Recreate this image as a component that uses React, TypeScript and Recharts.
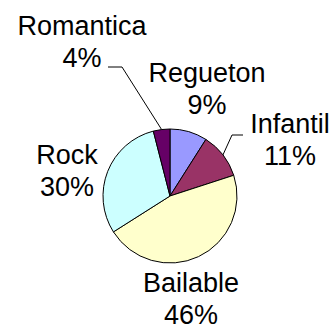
import { PieChart, Pie, Cell } from 'recharts'

const genres = ['Regueton', 'Infantil', 'Bailable', 'Rock', 'Romantica']
const shares = [9, 11, 46, 30, 4]
const colors = ['#9999ff', '#993366', '#ffffcc', '#ccffff', '#660066']

const data = genres.map((name, i) => ({ name, value: shares[i] }))

// label placement relative to the pie centre: [text centre x, first baseline y]
const labelOffsets: Record<string, [number, number]> = {
  Regueton: [37, -114],
  Infantil: [120, -63],
  Bailable: [21, 96],
  Rock: [-103, -32],
  Romantica: [-88, -161],
}

// leader lines: elbow and end, relative to the pie centre
const leaders: Record<string, [number, number, number, number]> = {
  Romantica: [-48, -129, -62, -129],
  Infantil: [62, -61, 73, -61],
}

const RAD = Math.PI / 180

function renderLabel(props: any) {
  const { cx, cy, midAngle, outerRadius, name, percent } = props
  const [dx, dy] = labelOffsets[name] ?? [0, 0]
  const x = cx + dx
  const y = cy + dy
  const lead = leaders[name]
  let line = null
  if (lead) {
    const sx = cx + outerRadius * Math.cos(-midAngle * RAD)
    const sy = cy + outerRadius * Math.sin(-midAngle * RAD)
    line = (
      <polyline
        points={`${sx},${sy} ${cx + lead[0]},${cy + lead[1]} ${cx + lead[2]},${cy + lead[3]}`}
        fill="none"
        stroke="#000"
        strokeWidth={1}
      />
    )
  }
  return (
    <g>
      {line}
      <text
        x={x}
        y={y}
        textAnchor="middle"
        fill="#000"
        fontSize={27}
        fontFamily="'Liberation Sans', Arial, sans-serif"
      >
        <tspan x={x} y={y}>{name}</tspan>
        <tspan x={x} y={y + 32}>{Math.round(percent * 100)}%</tspan>
      </text>
    </g>
  )
}

export default function App() {
  return (
    <div style={{ position: 'fixed', left: 0, top: 0, background: '#fff' }}>
      <PieChart width={336} height={333} margin={{ top: 0, right: 0, bottom: 0, left: 0 }}>
        <Pie
          data={data}
          dataKey="value"
          nameKey="name"
          cx={170}
          cy={196}
          outerRadius={67}
          startAngle={90}
          endAngle={-270}
          stroke="#000"
          strokeWidth={1}
          label={renderLabel}
          labelLine={false}
          isAnimationActive={false}
        >
          {data.map((d, i) => (
            <Cell key={d.name} fill={colors[i]} />
          ))}
        </Pie>
      </PieChart>
    </div>
  )
}
